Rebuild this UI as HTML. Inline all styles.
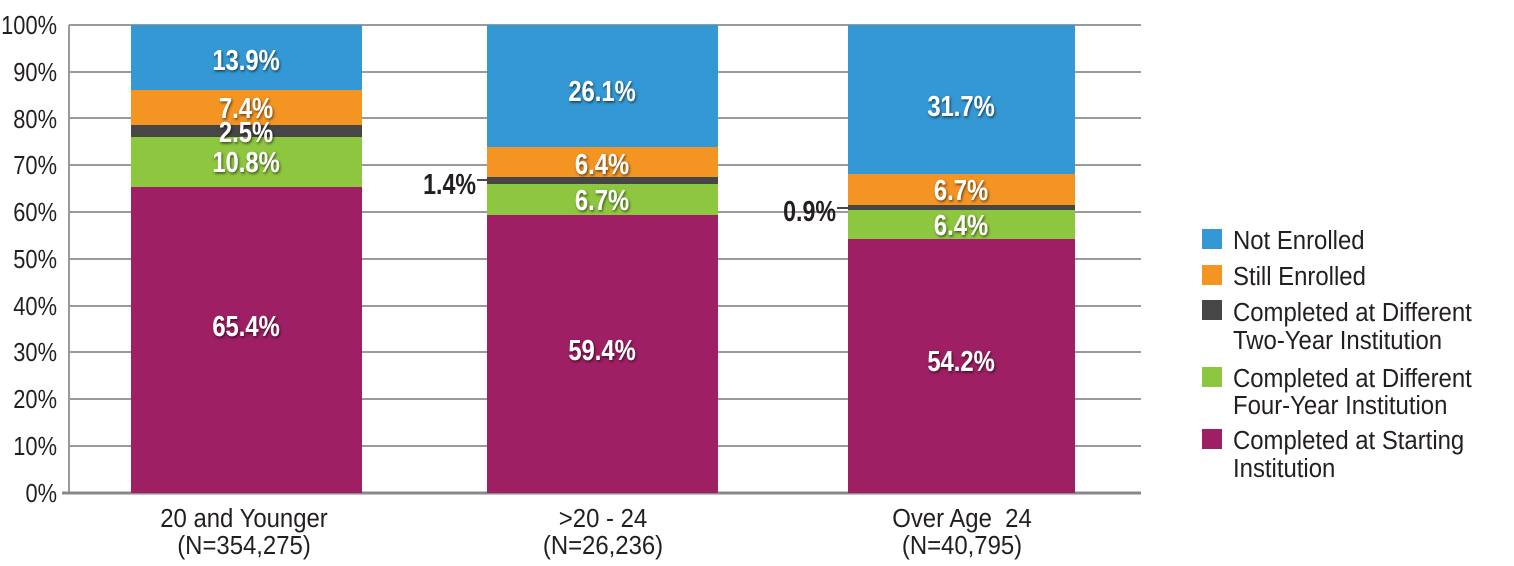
<!DOCTYPE html>
<html><head><style>
html,body{margin:0;padding:0;background:#fff;}
svg{display:block;font-family:"Liberation Sans",sans-serif;}
.w{fill:#fff;font-weight:bold;font-size:29px;text-anchor:middle;filter:url(#sh);}
.ax{fill:#231f20;font-size:26px;}
.lg{fill:#231f20;font-size:26px;}
</style></head><body>
<svg width="1514" height="566" viewBox="0 0 1514 566">
<defs><filter id="sh" x="-20%" y="-20%" width="140%" height="140%"><feDropShadow dx="1" dy="1.5" stdDeviation="1.2" flood-color="#000" flood-opacity="0.6"/></filter></defs>
<g stroke="#9a9a9a" stroke-width="2">
<line x1="69" y1="25" x2="1141" y2="25"/><line x1="69" y1="72" x2="1141" y2="72"/>
<line x1="69" y1="118" x2="1141" y2="118"/><line x1="69" y1="165" x2="1141" y2="165"/>
<line x1="69" y1="212" x2="1141" y2="212"/><line x1="69" y1="259" x2="1141" y2="259"/>
<line x1="69" y1="306" x2="1141" y2="306"/><line x1="69" y1="352" x2="1141" y2="352"/>
<line x1="69" y1="399" x2="1141" y2="399"/><line x1="69" y1="446" x2="1141" y2="446"/>
<line x1="69" y1="25" x2="69" y2="493"/>
</g>
<line x1="62" y1="493" x2="1141" y2="493" stroke="#888" stroke-width="3"/>
<g class="ax" text-anchor="end">
<text transform="translate(57 34) scale(.84 1)">100%</text>
<text transform="translate(57 81) scale(.84 1)">90%</text>
<text transform="translate(57 128) scale(.84 1)">80%</text>
<text transform="translate(57 174) scale(.84 1)">70%</text>
<text transform="translate(57 221) scale(.84 1)">60%</text>
<text transform="translate(57 268) scale(.84 1)">50%</text>
<text transform="translate(57 315) scale(.84 1)">40%</text>
<text transform="translate(57 361) scale(.84 1)">30%</text>
<text transform="translate(57 408) scale(.84 1)">20%</text>
<text transform="translate(57 455) scale(.84 1)">10%</text>
<text transform="translate(57 502) scale(.84 1)">0%</text>
</g>
<!-- bar1 -->
<rect x="131" y="25" width="231" height="65" fill="#3498d4"/>
<rect x="131" y="90" width="231" height="35" fill="#f39423"/>
<rect x="131" y="125" width="231" height="12" fill="#464646"/>
<rect x="131" y="137" width="231" height="50" fill="#8dc63f"/>
<rect x="131" y="187" width="231" height="306" fill="#9e1f63"/>
<!-- bar2 -->
<rect x="487" y="25" width="231" height="122" fill="#3498d4"/>
<rect x="487" y="147" width="231" height="30" fill="#f39423"/>
<rect x="487" y="177" width="231" height="7" fill="#464646"/>
<rect x="487" y="184" width="231" height="31" fill="#8dc63f"/>
<rect x="487" y="215" width="231" height="278" fill="#9e1f63"/>
<!-- bar3 -->
<rect x="848" y="25" width="227" height="149" fill="#3498d4"/>
<rect x="848" y="174" width="227" height="31" fill="#f39423"/>
<rect x="848" y="205" width="227" height="5" fill="#464646"/>
<rect x="848" y="210" width="227" height="29" fill="#8dc63f"/>
<rect x="848" y="239" width="227" height="254" fill="#9e1f63"/>
<g class="w">
<text transform="translate(246 70) scale(.82 1)">13.9%</text>
<text transform="translate(246 118) scale(.82 1)">7.4%</text>
<text transform="translate(246 142) scale(.82 1)">2.5%</text>
<text transform="translate(246 172) scale(.82 1)">10.8%</text>
<text transform="translate(246 336) scale(.82 1)">65.4%</text>
<text transform="translate(602 101) scale(.82 1)">26.1%</text>
<text transform="translate(602 174) scale(.82 1)">6.4%</text>
<text transform="translate(602 210) scale(.82 1)">6.7%</text>
<text transform="translate(602 360) scale(.82 1)">59.4%</text>
<text transform="translate(961 116) scale(.82 1)">31.7%</text>
<text transform="translate(961 200) scale(.82 1)">6.7%</text>
<text transform="translate(961 235) scale(.82 1)">6.4%</text>
<text transform="translate(961 371) scale(.82 1)">54.2%</text>
</g>
<g fill="#231f20" font-weight="bold" font-size="29px" text-anchor="end">
<text transform="translate(476 194) scale(.8 1)">1.4%</text>
<text transform="translate(836 221) scale(.8 1)">0.9%</text>
</g>
<line x1="477" y1="180" x2="487" y2="180" stroke="#464646" stroke-width="2"/>
<line x1="837" y1="208" x2="848" y2="208" stroke="#464646" stroke-width="2"/>
<g class="ax" text-anchor="middle">
<text transform="translate(244 527) scale(.92 1)">20 and Younger</text>
<text transform="translate(244 554) scale(.92 1)">(N=354,275)</text>
<text transform="translate(603 527) scale(.92 1)">&gt;20 - 24</text>
<text transform="translate(603 554) scale(.92 1)">(N=26,236)</text>
<text transform="translate(962 527) scale(.92 1)" xml:space="preserve">Over Age  24</text>
<text transform="translate(962 554) scale(.92 1)">(N=40,795)</text>
</g>
<rect x="1202" y="229" width="20" height="20" fill="#3498d4"/>
<rect x="1202" y="265" width="20" height="20" fill="#f39423"/>
<rect x="1202" y="300" width="20" height="20" fill="#464646"/>
<rect x="1202" y="367" width="20" height="20" fill="#8dc63f"/>
<rect x="1202" y="429" width="20" height="20" fill="#9e1f63"/>
<g class="lg">
<text transform="translate(1233 249) scale(.92 1)">Not Enrolled</text>
<text transform="translate(1233 285) scale(.92 1)">Still Enrolled</text>
<text transform="translate(1233 321) scale(.92 1)">Completed at Different</text>
<text transform="translate(1233 349) scale(.92 1)">Two-Year Institution</text>
<text transform="translate(1233 387) scale(.92 1)">Completed at Different</text>
<text transform="translate(1233 414) scale(.92 1)">Four-Year Institution</text>
<text transform="translate(1233 449) scale(.92 1)">Completed at Starting</text>
<text transform="translate(1233 477) scale(.92 1)">Institution</text>
</g>
</svg>
</body></html>
